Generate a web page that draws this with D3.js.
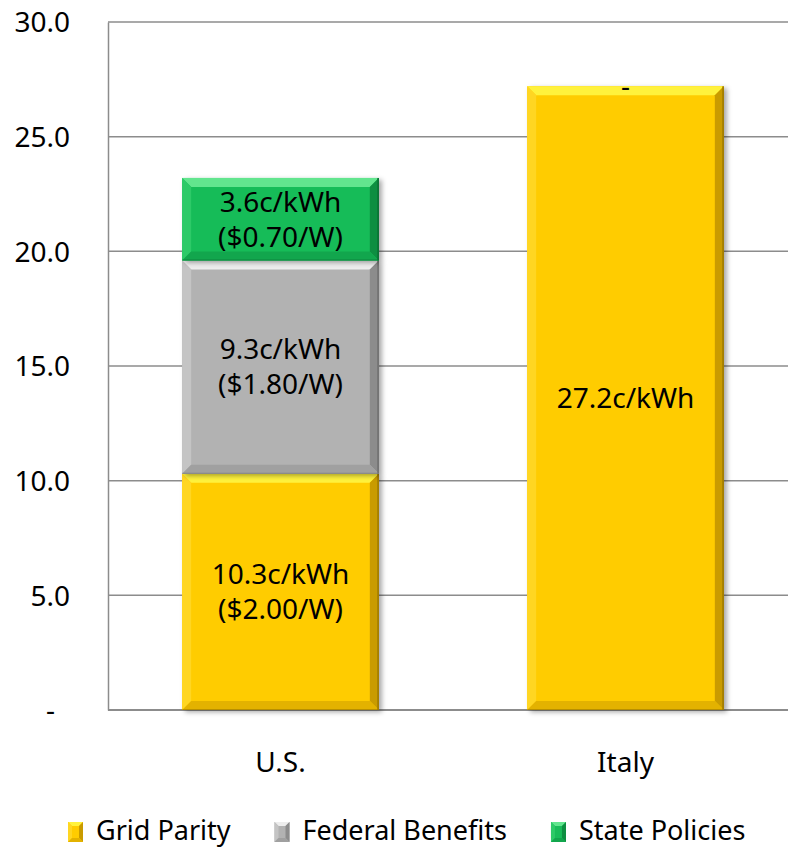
<!DOCTYPE html>
<html>
<head>
<meta charset="utf-8">
<script src="https://cdn.jsdelivr.net/npm/d3@7"></script>
<style>
  html, body { margin: 0; padding: 0; background: #fff; }
  svg { display: block; }
  text { font-family: "Noto Sans", "Open Sans", sans-serif; fill: #000; }
</style>
</head>
<body>
<svg id="chart" width="788" height="849"></svg>
<script>
// ---- data ----
const categories = ["U.S.", "Italy"];
const seriesNames = ["Grid Parity", "Federal Benefits", "State Policies"];
const gridParity = [10.3, 27.2];
const federalBenefits = [9.3, 0];
const statePolicies = [3.6, 0];
const segmentLabels = [
  [["10.3c/kWh", "($2.00/W)"], ["27.2c/kWh"]],
  [["9.3c/kWh", "($1.80/W)"], ["-"]],
  [["3.6c/kWh", "($0.70/W)"], []]
];
const yTicks = [0, 5, 10, 15, 20, 25, 30];

// ---- palette: face + bevel shades per series ----
const palette = [
  { face: "#FFCC00", top: "#FFF23C", left: "#FFD622", right: "#C99B00", bottom: "#E3B200", edge: "#9C7800" },
  { face: "#B2B2B2", top: "#EDEDED", left: "#C4C4C4", right: "#8C8C8C", bottom: "#A0A0A0", edge: "#6E6E6E" },
  { face: "#19BC59", top: "#62E58E", left: "#2DCA68", right: "#0E8E41", bottom: "#12A64D", edge: "#0B6E33" }
];

const W = 788, H = 849;
const margin = { left: 108, top: 22, right: -10, bottom: 139 };
const svg = d3.select("#chart");

const x = d3.scaleBand()
  .domain(categories)
  .range([margin.left, W - margin.right])
  .paddingInner(0.43)
  .paddingOuter(0.215);

const y = d3.scaleLinear()
  .domain([0, 30])
  .range([H - margin.bottom, margin.top]);

const defs = svg.append("defs");
const shadow = defs.append("filter").attr("id", "shadow")
  .attr("x", "-10%").attr("y", "-10%").attr("width", "130%").attr("height", "130%");
shadow.append("feDropShadow")
  .attr("dx", 3).attr("dy", 2).attr("stdDeviation", 2.5)
  .attr("flood-color", "#000").attr("flood-opacity", 0.35);

// ---- gridlines ----
const gridColor = "#8C8C8C";
svg.append("g").selectAll("line")
  .data(yTicks.filter(d => d > 0))
  .join("line")
  .attr("x1", margin.left).attr("x2", W)
  .attr("y1", d => y(d)).attr("y2", d => y(d))
  .attr("stroke", gridColor).attr("stroke-width", 1.5);

// ---- y axis ----
const yAxis = d3.axisLeft(y)
  .tickValues(yTicks)
  .tickSize(0)
  .tickPadding(38)
  .tickFormat(d => d === 0 ? "-" : d3.format(".1f")(d));
const yg = svg.append("g").attr("transform", `translate(${margin.left},0)`).call(yAxis);
yg.select(".domain").attr("stroke", gridColor).attr("stroke-width", 1.5);
yg.selectAll(".tick text")
  .attr("font-size", 28)
  .attr("font-family", "Noto Sans, sans-serif")
  .attr("fill", "#000")
  .attr("dx", d => d === 0 ? -15 : 0)
  .attr("dy", "0.35em");

// baseline
svg.append("line")
  .attr("x1", margin.left).attr("x2", W)
  .attr("y1", y(0)).attr("y2", y(0))
  .attr("stroke", gridColor).attr("stroke-width", 2);

// ---- stacked bars ----
const stackInput = categories.map((c, i) => ({
  cat: c, s0: gridParity[i], s1: federalBenefits[i], s2: statePolicies[i]
}));
const stacked = d3.stack().keys(["s0", "s1", "s2"])(stackInput);

const bars = svg.append("g");
stacked.forEach((layer, si) => {
  layer.forEach((seg, ci) => {
    const v = seg[1] - seg[0];
    const cat = categories[ci];
    const x0 = x(cat), x1 = x(cat) + x.bandwidth();
    const yTop = y(seg[1]), yBot = y(seg[0]);
    const pal = palette[si];
    if (v > 0) {
      const g = bars.append("g");
      const h = yBot - yTop;
      const b = Math.min(9, h / 2);
      g.append("rect")
        .attr("x", x0).attr("y", yTop).attr("width", x1 - x0).attr("height", h)
        .attr("fill", pal.face).attr("filter", "url(#shadow)");
      const poly = (pts, fill) => g.append("polygon")
        .attr("points", pts.map(p => p.join(",")).join(" ")).attr("fill", fill);
      poly([[x0, yTop], [x1, yTop], [x1 - b, yTop + b], [x0 + b, yTop + b]], pal.top);
      poly([[x0, yTop], [x0 + b, yTop + b], [x0 + b, yBot - b], [x0, yBot]], pal.left);
      poly([[x1, yTop], [x1, yBot], [x1 - b, yBot - b], [x1 - b, yTop + b]], pal.right);
      poly([[x0, yBot], [x1, yBot], [x1 - b, yBot - b], [x0 + b, yBot - b]], pal.bottom);
      g.append("line")
        .attr("x1", x1 - 0.75).attr("x2", x1 - 0.75).attr("y1", yTop).attr("y2", yBot)
        .attr("stroke", pal.edge).attr("stroke-width", 1.5);
      g.append("line")
        .attr("x1", x0).attr("x2", x1).attr("y1", yBot - 0.5).attr("y2", yBot - 0.5)
        .attr("stroke", pal.edge).attr("stroke-width", 1).attr("opacity", 0.6);
    }
  });
});

// ---- segment labels ----
const labels = svg.append("g");
stacked.forEach((layer, si) => {
  layer.forEach((seg, ci) => {
    const lines = segmentLabels[si][ci];
    if (!lines || !lines.length) return;
    const cx = x(categories[ci]) + x.bandwidth() / 2;
    const cy = (y(seg[0]) + y(seg[1])) / 2;
    const lh = 35;
    const t = labels.append("text")
      .attr("text-anchor", "middle")
      .attr("font-size", 28);
    lines.forEach((ln, li) => {
      t.append("tspan")
        .attr("x", cx)
        .attr("y", cy + (li - (lines.length - 1) / 2) * lh)
        .attr("dy", "0.35em")
        .text(ln);
    });
  });
});

// ---- category labels ----
svg.append("g").selectAll("text")
  .data(categories)
  .join("text")
  .attr("x", d => x(d) + x.bandwidth() / 2)
  .attr("y", 762)
  .attr("dy", "0.35em")
  .attr("text-anchor", "middle")
  .attr("font-size", 28)
  .text(d => d);

// ---- legend ----
const legend = svg.append("g");
let lx = 68;
const ly = 831;
seriesNames.forEach((name, i) => {
  const pal = palette[i];
  const sw = 15, sh = 20, b = 4;
  const sx = lx, sy = ly - sh / 2 + 1;
  const g = legend.append("g");
  g.append("rect").attr("x", sx).attr("y", sy).attr("width", sw).attr("height", sh).attr("fill", pal.face);
  const poly = (pts, fill) => g.append("polygon")
    .attr("points", pts.map(p => p.join(",")).join(" ")).attr("fill", fill);
  const x1 = sx + sw, y1 = sy + sh;
  poly([[sx, sy], [x1, sy], [x1 - b, sy + b], [sx + b, sy + b]], pal.top);
  poly([[sx, sy], [sx + b, sy + b], [sx + b, y1 - b], [sx, y1]], pal.left);
  poly([[x1, sy], [x1, y1], [x1 - b, y1 - b], [x1 - b, sy + b]], pal.right);
  poly([[sx, y1], [x1, y1], [x1 - b, y1 - b], [sx + b, y1 - b]], pal.bottom);
  const t = g.append("text")
    .attr("x", sx + sw + 13).attr("y", ly).attr("dy", "0.35em")
    .attr("font-size", 27).text(name);
  const tw = t.node().getComputedTextLength();
  lx = sx + sw + 13 + tw + 44;
});
</script>
</body>
</html>
